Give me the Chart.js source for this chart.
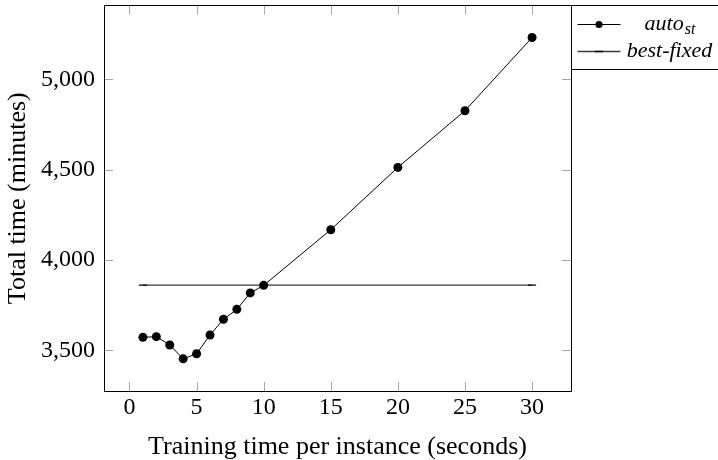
<!DOCTYPE html>
<html>
<head>
<meta charset="utf-8">
<script src="https://cdn.jsdelivr.net/npm/chart.js@4"></script>
<style>
  html, body { margin: 0; padding: 0; background: #fff; }
  canvas { display: block; }
</style>
</head>
<body>
<canvas id="c" width="718" height="460"></canvas>
<script>
// ---- data ----
const trainingTimes = [1, 2, 3, 4, 5, 6, 7, 8, 9, 10, 15, 20, 25, 30];
const autoStTotals = [3572, 3576, 3530, 3453, 3481, 3585, 3672, 3727, 3818, 3860, 4168, 4513, 4827, 5232];
const bestFixedTimes = [1, 30];
const bestFixedTotals = [3861, 3861];
const seriesNames = ['auto', 'best-fixed'];
const seriesSubscripts = ['st', ''];
const xTickValues = [0, 5, 10, 15, 20, 25, 30];
const yTickValues = [3500, 4000, 4500, 5000];
const xTitle = 'Training time per instance (seconds)';
const yTitle = 'Total time (minutes)';

const FONT = "'Liberation Serif', 'Times New Roman', serif";

const toPoints = (xs, ys) => xs.map((x, i) => ({ x: x, y: ys[i] }));

const frameAndTicks = {
  id: 'frameAndTicks',
  beforeDatasetsDraw(chart) {
    const { ctx, chartArea: a, scales } = chart;
    ctx.save();
    ctx.strokeStyle = '#a8a8a8';
    ctx.lineWidth = 1;
    const L = 9;
    scales.x.ticks.forEach(t => {
      const px = Math.round(scales.x.getPixelForValue(t.value)) + 0.5;
      ctx.beginPath();
      ctx.moveTo(px, a.bottom); ctx.lineTo(px, a.bottom - L);
      ctx.moveTo(px, a.top); ctx.lineTo(px, a.top + L);
      ctx.stroke();
    });
    scales.y.ticks.forEach(t => {
      const py = Math.round(scales.y.getPixelForValue(t.value)) + 0.5;
      ctx.beginPath();
      ctx.moveTo(a.left, py); ctx.lineTo(a.left + L, py);
      ctx.moveTo(a.right, py); ctx.lineTo(a.right - L, py);
      ctx.stroke();
    });
    ctx.restore();
  },
  afterDatasetsDraw(chart) {
    const { ctx, chartArea: a } = chart;
    ctx.save();
    ctx.strokeStyle = '#000';
    ctx.lineWidth = 1;
    ctx.strokeRect(Math.round(a.left) + 0.5, Math.round(a.top) + 0.5,
                   Math.round(a.right - a.left), Math.round(a.bottom - a.top));
    ctx.restore();
  }
};

const boxLegend = {
  id: 'boxLegend',
  afterDraw(chart) {
    const { ctx, chartArea: a } = chart;
    const x0 = Math.round(a.right) + 0.5;
    const y0 = Math.round(a.top) + 0.5;
    ctx.save();
    ctx.strokeStyle = '#000';
    ctx.lineWidth = 1;
    ctx.strokeRect(x0, y0, 200, 64);
    const rows = [y0 + 19, y0 + 46];
    chart.data.datasets.forEach((ds, i) => {
      const y = rows[i];
      ctx.strokeStyle = ds.borderColor;
      ctx.lineWidth = ds.borderWidth;
      ctx.beginPath();
      ctx.moveTo(x0 + 6, y); ctx.lineTo(x0 + 49, y);
      ctx.stroke();
      const mx = x0 + 27.5;
      if (ds.pointStyle === 'circle') {
        ctx.fillStyle = ds.pointBackgroundColor;
        ctx.beginPath(); ctx.arc(mx, y, 3.6, 0, Math.PI * 2); ctx.fill();
      } else {
        ctx.strokeStyle = '#000';
        ctx.lineWidth = 1.4;
        ctx.beginPath(); ctx.moveTo(mx - 4, y); ctx.lineTo(mx + 4, y); ctx.stroke();
      }
      ctx.fillStyle = '#000';
      ctx.textBaseline = 'middle';
      ctx.textAlign = 'left';
      const main = seriesNames[i], sub = seriesSubscripts[i];
      ctx.font = "italic 22px " + FONT;
      const w1 = ctx.measureText(main).width;
      ctx.font = "italic 16px " + FONT;
      const w2 = sub ? ctx.measureText(sub).width : 0;
      const cx = x0 + 98;
      const sx = cx - (w1 + w2) / 2;
      ctx.font = "italic 22px " + FONT;
      ctx.fillText(main, sx, y);
      if (sub) {
        ctx.font = "italic 16px " + FONT;
        ctx.fillText(sub, sx + w1 + 1, y + 5);
      }
    });
    ctx.restore();
  }
};

function noPad(s) {
  s.paddingTop = 0; s.paddingBottom = 0; s.paddingLeft = 0; s.paddingRight = 0;
}

new Chart(document.getElementById('c'), {
  type: 'line',
  data: {
    datasets: [
      {
        label: seriesNames[0] + seriesSubscripts[0],
        data: toPoints(trainingTimes, autoStTotals),
        borderColor: '#000',
        borderWidth: 1,
        pointStyle: 'circle',
        pointRadius: 4.5,
        pointBackgroundColor: '#000',
        pointBorderColor: '#000',
        pointBorderWidth: 0,
        tension: 0,
        fill: false
      },
      {
        label: seriesNames[1],
        data: toPoints(bestFixedTimes, bestFixedTotals),
        borderColor: '#3a3a3a',
        borderWidth: 1.3,
        pointStyle: 'line',
        pointRadius: 4,
        pointBorderColor: '#000',
        pointBorderWidth: 1.4,
        tension: 0,
        fill: false
      }
    ]
  },
  options: {
    responsive: false,
    animation: false,
    devicePixelRatio: 1,
    layout: { padding: { top: 4, right: 147, left: 0, bottom: 0 } },
    plugins: { legend: { display: false }, tooltip: { enabled: false } },
    scales: {
      x: {
        type: 'linear',
        min: -1.9,
        max: 32.9,
        grid: { display: false, drawTicks: false },
        border: { display: false },
        afterBuildTicks(s) { s.ticks = xTickValues.map(v => ({ value: v })); },
        ticks: {
          color: '#000',
          padding: 5,
          maxRotation: 0,
          autoSkip: false,
          font: { family: FONT, size: 24, lineHeight: 1 }
        },
        title: {
          display: true,
          text: xTitle,
          color: '#000',
          padding: { top: 0, bottom: 0 },
          font: { family: FONT, size: 26, lineHeight: 1 }
        },
        afterFit(s) { s.height = 69; noPad(s); }
      },
      y: {
        type: 'linear',
        min: 3275,
        max: 5410,
        grid: { display: false, drawTicks: false },
        border: { display: false },
        afterBuildTicks(s) { s.ticks = yTickValues.map(v => ({ value: v })); },
        ticks: {
          color: '#000',
          padding: 9,
          autoSkip: false,
          font: { family: FONT, size: 24, lineHeight: 1 },
          callback: v => v.toLocaleString('en-US')
        },
        title: {
          display: true,
          text: yTitle,
          color: '#000',
          padding: { top: 5, bottom: 0 },
          font: { family: FONT, size: 26, lineHeight: 1 }
        },
        afterFit(s) { s.width = 104; noPad(s); }
      }
    }
  },
  plugins: [frameAndTicks, boxLegend]
});
</script>
</body>
</html>
